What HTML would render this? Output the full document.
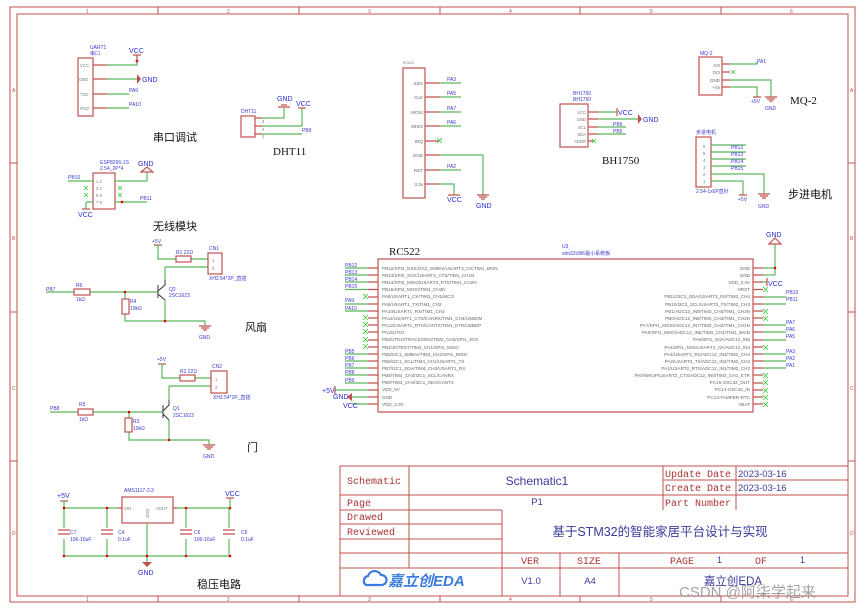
<!DOCTYPE html>
<html><head><meta charset="utf-8"><style>
html,body{margin:0;padding:0;background:#fff;}
svg{display:block;}
text{font-family:"Liberation Sans","Noto Sans CJK SC",sans-serif;}
.b{fill:#2b2bd6;font-size:7px;}
.bs{fill:#3a3ad0;font-size:5px;}
.p{fill:#666;font-size:4.6px;}
.pn{fill:#777;font-size:4.2px;}
.r{fill:#a33;font-family:"Liberation Mono","Noto Sans CJK SC",monospace;font-size:10px;}
.lbl{fill:#111;font-size:11px;font-family:"Liberation Serif","Noto Sans CJK SC",serif;}
.g{stroke:#5cb85c;stroke-width:1.2;fill:none;}
.rd{stroke:#c0504d;stroke-width:1.2;fill:none;}
.box{stroke:#c0504d;stroke-width:1.2;fill:#fff;}
.fr{stroke:#c0504d;stroke-width:1;fill:none;}
.x{stroke:#3c3;stroke-width:0.8;}
</style></head><body>
<svg width="865" height="610" viewBox="0 0 865 610" xmlns="http://www.w3.org/2000/svg">
<!-- frame -->
<rect x="10" y="7" width="845" height="595" class="fr"/>
<rect x="17" y="14" width="831" height="582" class="fr"/>
<g class="fr">
<line x1="158" y1="7" x2="158" y2="14"/><line x1="299" y1="7" x2="299" y2="14"/><line x1="440" y1="7" x2="440" y2="14"/><line x1="580" y1="7" x2="580" y2="14"/><line x1="721" y1="7" x2="721" y2="14"/>
<line x1="158" y1="596" x2="158" y2="602"/><line x1="299" y1="596" x2="299" y2="602"/><line x1="440" y1="596" x2="440" y2="602"/><line x1="580" y1="596" x2="580" y2="602"/><line x1="721" y1="596" x2="721" y2="602"/>
<line x1="10" y1="163" x2="17" y2="163"/><line x1="10" y1="312" x2="17" y2="312"/><line x1="10" y1="461" x2="17" y2="461"/>
<line x1="848" y1="163" x2="855" y2="163"/><line x1="848" y1="312" x2="855" y2="312"/><line x1="848" y1="461" x2="855" y2="461"/>
</g>
<g fill="#c0504d" font-size="5">
<text x="86" y="13">1</text><text x="227" y="13">2</text><text x="368" y="13">3</text><text x="509" y="13">4</text><text x="650" y="13">5</text><text x="790" y="13">6</text>
<text x="86" y="601">1</text><text x="227" y="601">2</text><text x="368" y="601">3</text><text x="509" y="601">4</text><text x="650" y="601">5</text><text x="790" y="601">6</text>
<text x="12" y="92">A</text><text x="12" y="240">B</text><text x="12" y="390">C</text><text x="12" y="535">D</text>
<text x="850" y="92">A</text><text x="850" y="240">B</text><text x="850" y="390">C</text><text x="850" y="535">D</text>
</g>

<!-- UART1 -->
<text class="bs" x="90" y="49">UART1</text><text class="bs" x="90" y="55">串口</text>
<rect x="78" y="58" width="15" height="58" class="box"/>
<text class="pn" x="80" y="67">VCC</text><text class="pn" x="79" y="81">GND</text><text class="pn" x="80" y="96">TXD</text><text class="pn" x="80" y="110">RXD</text>
<path class="rd" d="M93 65H107M93 79H107M93 94H107M93 108H107"/>
<path class="g" d="M107 65H137V58M107 79H137M107 94H129M107 108H129"/>
<circle cx="137" cy="61" r="1.4" fill="#d00"/>
<path class="rd" d="M133 55H141M137 55V61"/><text class="b" x="129" y="53">VCC</text>
<path d="M137 74L141 79L137 84Z" fill="#c0504d"/><text class="b" x="142" y="82">GND</text>
<text class="bs" x="129" y="92">PA9</text><text class="bs" x="129" y="106">PA10</text>
<text class="lbl" x="153" y="141">串口调试</text>

<!-- DHT11 -->
<text class="bs" x="241" y="113">DHT11</text>
<rect x="241" y="116" width="14" height="21" class="box"/>
<path class="rd" d="M255 118H262M255 126H262M255 134H262"/>
<path class="g" d="M262 118H284V108M262 126H302V108M262 134H302"/>
<path class="rd" d="M278 107H290M281 105H287"/><text class="b" x="277" y="101">GND</text>
<path class="rd" d="M298 108H306"/><text class="b" x="296" y="106">VCC</text>
<text class="bs" x="302" y="132">PB9</text>
<text class="pn" x="262" y="123">3</text><text class="pn" x="262" y="131">2</text><text class="pn" x="262" y="138">1</text>
<text class="lbl" x="273" y="155">DHT11</text>

<!-- ESP8266 -->
<text class="bs" x="100" y="164">ESP8266-1S</text><text class="bs" x="100" y="170">2.54_2P*4</text>
<rect x="93" y="173" width="22" height="36" class="box"/>
<text class="pn" x="96" y="183">1  2</text><text class="pn" x="96" y="190">3  4</text><text class="pn" x="96" y="197">5  6</text><text class="pn" x="96" y="204">7  8</text>
<path class="g" d="M68 181H93M115 181H147V172M86 202H93M86 202V209M115 202H147"/>
<path class="rd" d="M141 172H153L147 167Z"/><text class="b" x="138" y="166">GND</text>
<path class="rd" d="M82 209H90"/><text class="b" x="78" y="217">VCC</text>
<text class="bs" x="68" y="179">PB10</text><text class="bs" x="140" y="200">PB11</text>
<circle cx="122" cy="202" r="1.3" fill="#d00"/>
<g class="x"><path d="M84 186l4 4M88 186l-4 4M84 193l4 4M88 193l-4 4M118 186l4 4M122 186l-4 4M118 193l4 4M122 193l-4 4"/></g>
<text class="lbl" x="153" y="230">无线模块</text>

<!-- RC522 module -->
<text x="403" y="64" font-size="3.5" fill="#777">RC522</text>
<rect x="403" y="68" width="22" height="130" class="box"/>
<g class="p" text-anchor="end"><text x="423" y="85">SDA</text><text x="423" y="99">CLK</text><text x="423" y="114">MOSI</text><text x="423" y="128">MISO</text><text x="423" y="143">IRQ</text><text x="423" y="157">GND</text><text x="423" y="172">RST</text><text x="423" y="186">3.3v</text></g>
<path class="rd" d="M425 83H440M425 97H440M425 112H440M425 126H440M425 141H440M425 155H440M425 170H440M425 184H440"/>
<path class="g" d="M440 83H461M440 97H461M440 112H461M440 126H461M440 155H483V195M440 170H461M440 184H454V195"/>
<g class="x"><path d="M437 138l5 5M442 138l-5 5"/></g>
<text class="bs" x="447" y="81">PA3</text><text class="bs" x="447" y="95">PA5</text><text class="bs" x="447" y="110">PA7</text><text class="bs" x="447" y="124">PA6</text><text class="bs" x="447" y="168">PA2</text>
<path class="rd" d="M477 195H489M479 197H487M481 199H485M448 195H460"/>
<text class="b" x="447" y="202">VCC</text><text class="b" x="476" y="208">GND</text>

<!-- BH1750 -->
<text class="bs" x="573" y="95">BH1750</text><text class="bs" x="573" y="101">BH1750</text>
<rect x="560" y="104" width="28" height="43" class="box"/>
<g class="pn" text-anchor="end"><text x="586" y="114">VCC</text><text x="586" y="121">GND</text><text x="586" y="129">SCL</text><text x="586" y="136">SDA</text><text x="586" y="143">ADDR</text></g>
<path class="rd" d="M588 112H598M588 119H598M588 127H598M588 134H598M588 141H594"/>
<path class="g" d="M598 112H617M598 119H638M598 127H626M598 134H626"/>
<path class="rd" d="M617 108V116"/><text class="b" x="618" y="115">VCC</text>
<path d="M638 114L642 119L638 124Z" fill="#c0504d"/><text class="b" x="643" y="122">GND</text>
<text class="bs" x="613" y="126">PB6</text><text class="bs" x="613" y="133">PB5</text>
<g class="x"><path d="M592 139l4 4M596 139l-4 4"/></g>
<text class="lbl" x="602" y="164">BH1750</text>

<!-- MQ-2 -->
<text class="bs" x="700" y="55">MQ-2</text>
<rect x="699" y="57" width="23" height="38" class="box"/>
<g class="p" text-anchor="end"><text x="720" y="67">AO</text><text x="720" y="74">DO</text><text x="720" y="82">GND</text><text x="720" y="89">+5v</text></g>
<path class="rd" d="M722 64H730M722 72H730M722 80H730M722 87H730"/>
<path class="g" d="M730 64H757V62M730 80H771V97M730 87H757V97"/>
<g class="x"><path d="M731 70l4 4M735 70l-4 4"/></g>
<text class="bs" x="757" y="63">PA1</text>
<path class="rd" d="M765 97H777M767 99H775M769 101H773M753 97H761"/>
<text class="bs" x="751" y="103">+5V</text><text class="bs" x="765" y="110">GND</text>
<text class="lbl" x="790" y="104">MQ-2</text>

<!-- Stepper -->
<text class="bs" x="696" y="134">步进电机</text>
<rect x="696" y="137" width="15" height="50" class="box"/>
<g class="pn"><text x="703" y="148">6</text><text x="703" y="155">5</text><text x="703" y="162">4</text><text x="703" y="169">3</text><text x="703" y="176">2</text><text x="703" y="183">1</text></g>
<path class="g" d="M711 145H746M711 152H746M711 159H746M711 166H746M711 174H764V194M711 181H743V195"/>
<text class="bs" x="731" y="149">PB12</text><text class="bs" x="731" y="156">PB13</text><text class="bs" x="731" y="163">PB14</text><text class="bs" x="731" y="170">PB15</text>
<text class="bs" x="696" y="193">2.54-1x6P直针</text>
<path class="rd" d="M758 194H770M760 196H768M762 198H766M739 195H747"/>
<text class="bs" x="738" y="201">+5V</text><text class="bs" x="758" y="208">GND</text>
<text class="lbl" x="788" y="198">步进电机</text>

<!-- Fan circuit -->
<text class="bs" x="152" y="243">+5V</text>
<path class="rd" d="M154 245H162"/>
<path class="g" d="M158 245V259H176M191 259H208M165 267H208M165 267V280M46 292H74M90 292H158M125 292V299M125 314V321H205V326M165 300V321"/>
<rect x="176" y="256" width="15" height="6" class="rd"/>
<text class="bs" x="176" y="254">R1 22Ω</text>
<rect x="208" y="253" width="14" height="21" class="box"/>
<text class="bs" x="209" y="250">CN1</text><text class="pn" x="212" y="262">1</text><text class="pn" x="212" y="270">2</text>
<text class="bs" x="209" y="280">XH2.54*2P_直插</text>
<text class="bs" x="46" y="291">PB7</text>
<rect x="74" y="289" width="16" height="6" class="rd"/><text class="bs" x="76" y="287">R6</text><text class="bs" x="76" y="301">1kΩ</text>
<rect x="122" y="299" width="7" height="15" class="rd"/><text class="bs" x="130" y="303">R4</text><text class="bs" x="130" y="310">10kΩ</text>
<path stroke="#333" stroke-width="1" fill="none" d="M158 285V298M158 291L165 285V280M158 294L165 300"/>
<text class="bs" x="169" y="291">Q2</text><text class="bs" x="169" y="297">2SC1623</text>
<circle cx="125" cy="292" r="1.3" fill="#d00"/><circle cx="165" cy="321" r="1.3" fill="#d00"/>
<path class="rd" d="M199 326H211M201 328H209M203 330H207"/><text class="bs" x="199" y="339">GND</text>
<text class="lbl" x="245" y="331">风扇</text>

<!-- Door circuit -->
<text class="bs" x="157" y="361">+5V</text>
<path class="rd" d="M158 364H166"/>
<path class="g" d="M162 364V378H180M195 378H211M169 386H211M169 386V400M50 412H78M93 412H163M129 412V418M129 432V440H209V445M169 420V440"/>
<rect x="180" y="375" width="15" height="6" class="rd"/><text class="bs" x="180" y="373">R2 22Ω</text>
<rect x="211" y="371" width="16" height="22" class="box"/>
<text class="bs" x="212" y="368">CN2</text><text class="pn" x="215" y="381">1</text><text class="pn" x="215" y="389">2</text>
<text class="bs" x="213" y="399">XH2.54*2P_直插</text>
<text class="bs" x="50" y="410">PB8</text>
<rect x="78" y="409" width="15" height="6" class="rd"/><text class="bs" x="79" y="406">R5</text><text class="bs" x="79" y="421">1kΩ</text>
<rect x="125" y="418" width="7" height="14" class="rd"/><text class="bs" x="133" y="423">R3</text><text class="bs" x="133" y="430">10kΩ</text>
<path stroke="#333" stroke-width="1" fill="none" d="M163 405V418M163 411L169 405V400M163 414L169 420"/>
<text class="bs" x="173" y="410">Q1</text><text class="bs" x="173" y="417">2SC1623</text>
<circle cx="129" cy="412" r="1.3" fill="#d00"/><circle cx="169" cy="440" r="1.3" fill="#d00"/>
<path class="rd" d="M203 445H215M205 447H213M207 449H211"/><text class="bs" x="203" y="458">GND</text>
<text class="lbl" x="247" y="451">门</text>

<!-- Power -->
<text class="b" x="57" y="498">+5V</text><path class="rd" d="M60 501H68"/>
<text class="bs" x="124" y="492">AMS1117-3.3</text>
<rect x="122" y="497" width="51" height="26" class="box"/>
<text class="pn" x="124" y="510">VIN</text><text class="pn" x="156" y="510">VOUT</text><text class="pn" x="146" y="521" transform="rotate(-90 146 518)">GND</text>
<path class="g" d="M64 501V508H118M64 508V528M64 539V556H230M107 508V528M107 539V556M177 508H230V498M186 508V528M186 539V556M229 508V528M229 539V556M147 523V562"/>
<path class="rd" d="M118 508H122M173 508H177"/>
<g class="rd"><path d="M58 530H70M58 534H70M101 530H113M101 534H113M180 530H192M180 534H192M223 530H235M223 534H235"/></g>
<text class="bs" x="70" y="534">C7</text><text class="bs" x="70" y="541">106-10uF</text>
<text class="bs" x="118" y="534">C4</text><text class="bs" x="118" y="541">0.1uF</text>
<text class="bs" x="194" y="534">C6</text><text class="bs" x="194" y="541">106-10uF</text>
<text class="bs" x="241" y="534">C5</text><text class="bs" x="241" y="541">0.1uF</text>
<path class="rd" d="M226 498H234"/><text class="b" x="225" y="496">VCC</text>
<g fill="#d00"><circle cx="64" cy="508" r="1.3"/><circle cx="107" cy="508" r="1.3"/><circle cx="186" cy="508" r="1.3"/><circle cx="230" cy="508" r="1.3"/><circle cx="64" cy="556" r="1.3"/><circle cx="107" cy="556" r="1.3"/><circle cx="147" cy="556" r="1.3"/><circle cx="186" cy="556" r="1.3"/><circle cx="230" cy="556" r="1.3"/></g>
<path d="M142 562H152L147 567Z" fill="#c0504d"/><text class="b" x="138" y="575">GND</text>
<text class="lbl" x="197" y="588">稳压电路</text>

<!-- U3 -->
<text class="lbl" x="389" y="255" font-size="9">RC522</text>
<text class="bs" x="562" y="248">U3</text><text class="bs" x="562" y="255">stm32c8t6最小系统板</text>
<rect x="378" y="259" width="375" height="153" class="box"/>
<g class="p">
<text x="382" y="270">PB12/SPI2_NSS/I2C2_SMBAI/USART3_CK/TIM1_BKIN</text>
<text x="382" y="277">PB13/SPI2_SCK/USART3_CTS/TIM1_CH1N</text>
<text x="382" y="284">PB14/SPI2_MISO/USART3_RTS/TIM1_CH2N</text>
<text x="382" y="291">PB15/SPI2_MOSI/TIM1_CH3N</text>
<text x="382" y="298">PA8/USART1_CK/TIM1_CH1/MCO</text>
<text x="382" y="306">PA9/USART1_TX/TIM1_CH2</text>
<text x="382" y="313">PA10/USART1_RX/TIM1_CH3</text>
<text x="382" y="320">PA11/USART1_CTS/CANRX/TIM1_CH4/USBDM</text>
<text x="382" y="327">PA12/USART1_RTS/CANTX/TIM1_ETR/USBDP</text>
<text x="382" y="334">PA15/JTDI</text>
<text x="382" y="341">PB3/JTDO/TRACESWO/TIM2_CH2/SPI1_SCK</text>
<text x="382" y="349">PB4/JNTRST/TIM3_CH1/SPI1_MISO</text>
<text x="382" y="356">PB5/I2C1_SMBAI/TIM3_CH2/SPI1_MOSI</text>
<text x="382" y="363">PB6/I2C1_SCL/TIM4_CH1/USART1_TX</text>
<text x="382" y="370">PB7/I2C1_SDA/TIM4_CH2/USART1_RX</text>
<text x="382" y="377">PB8/TIM4_CH3/I2C1_SCL/CANRX</text>
<text x="382" y="384">PB9/TIM4_CH4/I2C1_SDA/CANTX</text>
<text x="382" y="391">VDD_5V</text>
<text x="382" y="399">GND</text>
<text x="382" y="406">VDD_3.3V</text>
</g>
<g class="p" text-anchor="end">
<text x="750" y="270">GND</text>
<text x="750" y="277">GND</text>
<text x="750" y="284">VDD_3.3V</text>
<text x="750" y="291">NRST</text>
<text x="750" y="298">PB11/I2C2_SDA/USART3_RX/TIM2_CH4</text>
<text x="750" y="306">PB10/I2C2_SCL/USART3_TX/TIM2_CH3</text>
<text x="750" y="313">PB1/ADC12_IN9/TIM3_CH4/TIM1_CH3N</text>
<text x="750" y="320">PB0/ADC12_IN8/TIM3_CH3/TIM1_CH2N</text>
<text x="750" y="327">PA7/SPI1_MOSI/ADC12_IN7/TIM3_CH2/TIM1_CH1N</text>
<text x="750" y="334">PA6/SPI1_MISO/ADC12_IN6/TIM3_CH1/TIM1_BKIN</text>
<text x="750" y="341">PA5/SPI1_SCK/ADC12_IN5</text>
<text x="750" y="349">PA4/SPI1_NSS/USART2_CK/ADC12_IN4</text>
<text x="750" y="356">PA3/USART2_RX/ADC12_IN3/TIM2_CH4</text>
<text x="750" y="363">PA2/USART2_TX/ADC12_IN2/TIM2_CH3</text>
<text x="750" y="370">PA1/USART2_RTS/ADC12_IN1/TIM2_CH2</text>
<text x="750" y="377">PA0/WKUP/USART2_CTS/ADC12_IN0/TIM2_CH1_ETR</text>
<text x="750" y="384">PC15-OSC32_OUT</text>
<text x="750" y="391">PC14-OSC32_IN</text>
<text x="750" y="399">PC13-TAMPER-RTC</text>
<text x="750" y="406">VBAT</text>
</g>
<!-- U3 left pins -->
<path class="rd" d="M368 268H378M368 275H378M368 282H378M368 289.5H378M368 297H378M368 304H378M368 311H378M368 318H378M368 325H378M368 332H378M368 340H378M368 347H378M368 354H378M368 361H378M368 368H378M368 375H378M368 383H378M368 390H378M368 397H378M368 404H378"/>
<path class="g" d="M345 268H368M345 275H368M345 282H368M345 289.5H368M345 304H368M345 311H368M345 354H368M345 361H368M345 368H368M345 375H368M345 383H368M335 390H368M352 397H368M352 404H368"/>
<g class="bs"><text x="345" y="267">PB12</text><text x="345" y="274">PB13</text><text x="345" y="281">PB14</text><text x="345" y="288">PB15</text><text x="345" y="302">PA9</text><text x="345" y="310">PA10</text><text x="345" y="353">PB5</text><text x="345" y="360">PB6</text><text x="345" y="367">PB7</text><text x="345" y="374">PB8</text><text x="345" y="382">PB9</text></g>
<text class="b" x="322" y="393">+5V</text><path class="rd" d="M335 386V394"/>
<path d="M352 393L347 397L352 401Z" fill="#c0504d"/><text class="b" x="333" y="399">GND</text><text class="b" x="343" y="408">VCC</text>
<g class="x"><path d="M363 294l5 5M368 294l-5 5M363 315l5 5M368 315l-5 5M363 322l5 5M368 322l-5 5M363 329l5 5M368 329l-5 5M363 337l5 5M368 337l-5 5M363 344l5 5M368 344l-5 5"/></g>
<!-- U3 right pins -->
<path class="rd" d="M753 268H763M753 275H763M753 282H763M753 289.5H763M753 297H763M753 304H763M753 311H763M753 318H763M753 325H763M753 332H763M753 340H763M753 347H763M753 354H763M753 361H763M753 368H763M753 375H763M753 383H763M753 390H763M753 397H763M753 404H763"/>
<path class="g" d="M763 268H775V244M763 275H775V268M763 297H786M763 304H786M763 325H786M763 332H786M763 340H786M763 354H786M763 361H786M763 368H786M763 282H767"/>
<circle cx="775" cy="268" r="1.3" fill="#d00"/>
<path class="rd" d="M767 278V286M769 244H781L775 238Z"/><text class="b" x="766" y="237">GND</text>
<text class="b" x="768" y="286">VCC</text>
<g class="bs"><text x="786" y="294">PB10</text><text x="786" y="301">PB11</text><text x="786" y="324">PA7</text><text x="786" y="331">PA6</text><text x="786" y="338">PA5</text><text x="786" y="353">PA3</text><text x="786" y="360">PA2</text><text x="786" y="367">PA1</text></g>
<g class="x"><path d="M763 287l5 5M768 287l-5 5M763 309l5 5M768 309l-5 5M763 316l5 5M768 316l-5 5M763 345l5 5M768 345l-5 5M763 373l5 5M768 373l-5 5M763 380l5 5M768 380l-5 5M763 388l5 5M768 388l-5 5M763 395l5 5M768 395l-5 5M763 402l5 5M768 402l-5 5"/></g>

<!-- Title block -->
<g class="fr">
<rect x="340" y="466" width="508" height="130"/>
<line x1="340" y1="495" x2="848" y2="495"/>
<line x1="340" y1="510" x2="502" y2="510"/>
<line x1="340" y1="524" x2="502" y2="524"/>
<line x1="340" y1="539" x2="502" y2="539"/>
<line x1="340" y1="553" x2="848" y2="553"/>
<line x1="340" y1="568" x2="848" y2="568"/>
<line x1="663" y1="480" x2="848" y2="480"/>
<line x1="409" y1="466" x2="409" y2="568"/>
<line x1="502" y1="510" x2="502" y2="596"/>
<line x1="560" y1="553" x2="560" y2="596"/>
<line x1="619" y1="553" x2="619" y2="596"/>
<line x1="663" y1="466" x2="663" y2="510"/>
<line x1="736" y1="466" x2="736" y2="510"/>
</g>
<text class="r" x="347" y="484">Schematic</text>
<text class="r" x="347" y="506">Page</text>
<text class="r" x="347" y="520">Drawed</text>
<text class="r" x="347" y="535">Reviewed</text>
<text class="r" x="665" y="477">Update Date</text>
<text class="r" x="665" y="491">Create Date</text>
<text class="r" x="665" y="506">Part Number</text>
<text x="738" y="477" fill="#3a3a9a" font-size="9.5">2023-03-16</text>
<text x="738" y="491" fill="#3a3a9a" font-size="9.5">2023-03-16</text>
<text x="537" y="485" fill="#3a3a9a" font-size="12" text-anchor="middle">Schematic1</text>
<text x="537" y="505" fill="#3a3a9a" font-size="9.5" text-anchor="middle">P1</text>
<text x="660" y="536" fill="#3a3a9a" font-size="12.5" text-anchor="middle">基于STM32的智能家居平台设计与实现</text>
<text class="r" x="521" y="564">VER</text><text class="r" x="577" y="564">SIZE</text>
<text class="r" x="670" y="564">PAGE</text><text x="717" y="563" fill="#3a3a9a" font-size="9">1</text>
<text class="r" x="755" y="564">OF</text><text x="800" y="563" fill="#3a3a9a" font-size="9">1</text>
<text x="531" y="584" fill="#3a3a9a" font-size="9.5" text-anchor="middle">V1.0</text>
<text x="590" y="584" fill="#3a3a9a" font-size="9.5" text-anchor="middle">A4</text>
<text x="733" y="585" fill="#3a3a9a" font-size="11.5" text-anchor="middle">嘉立创EDA</text>
<path d="M366 585a5 5 0 0 1 2-9a7 7 0 0 1 13-1a5 5 0 0 1 1 10z" fill="none" stroke="#3a7be0" stroke-width="2.2"/>
<text x="388" y="586" fill="#3a7be0" font-size="15" font-weight="bold" font-style="italic">嘉立创EDA</text>
<text x="679" y="597" fill="#999" font-size="15" opacity="0.9">CSDN @阿柒学起来</text>
</svg>
</body></html>
